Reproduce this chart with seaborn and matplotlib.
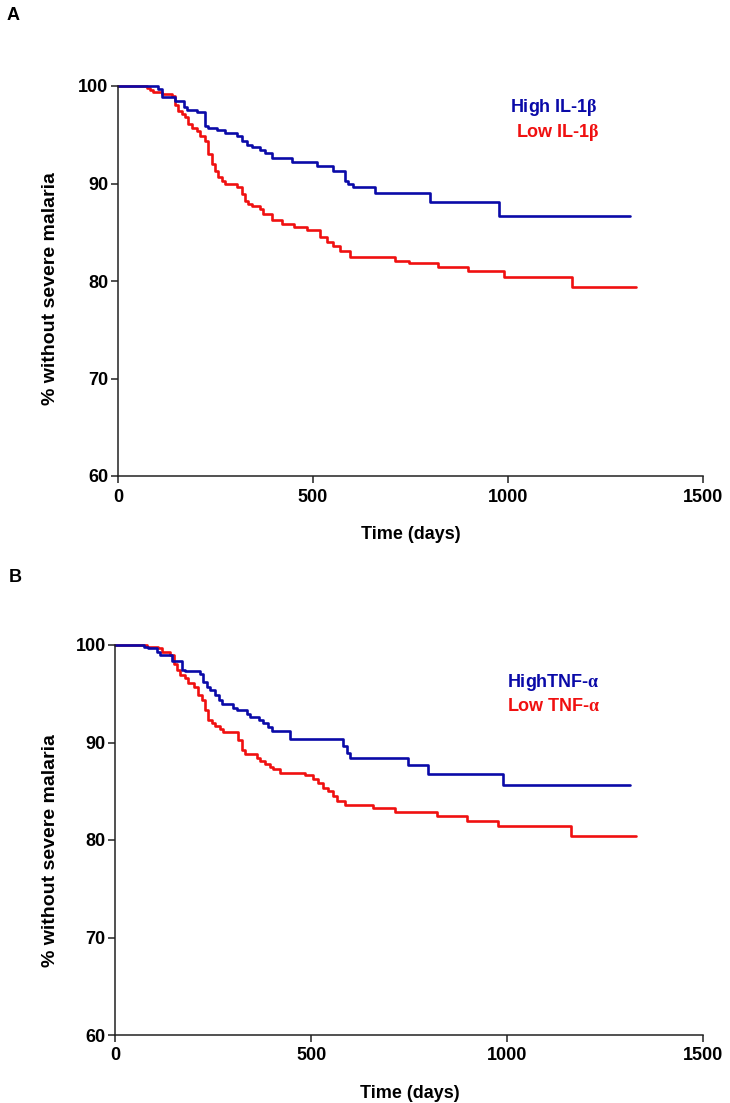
import matplotlib
matplotlib.use("Agg")
import matplotlib.pyplot as plt
import pandas as pd
import seaborn as sns

# Kaplan-Meier steps (time in days, % without severe malaria)
il1b_high_t = [0, 103, 112, 146, 168, 178, 202, 223, 232, 253, 274, 304, 317, 330, 343, 364,
               377, 394, 445, 509, 552, 582, 591, 603, 659, 800, 978, 1314]
il1b_high_s = [100, 99.7, 98.9, 98.5, 97.8, 97.5, 97.3, 95.9, 95.7, 95.5, 95.2, 94.9, 94.4, 94.0,
               93.75, 93.4, 93.1, 92.6, 92.25, 91.8, 91.3, 90.3, 89.9, 89.6, 89.0, 88.1, 86.7, 86.7]

il1b_low_t = [0, 74, 82, 91, 112, 138, 146, 155, 163, 172, 180, 189, 202, 210, 223, 232, 240, 249,
              257, 266, 274, 304, 317, 326, 334, 343, 364, 373, 394, 420, 450, 484, 518, 535, 552,
              569, 595, 710, 747, 821, 898, 990, 1163, 1328]
il1b_low_s = [100, 99.8, 99.6, 99.4, 99.2, 99.0, 98.1, 97.4, 97.1, 96.8, 96.1, 95.7, 95.4, 94.9,
              94.4, 93.0, 92.0, 91.3, 90.7, 90.3, 89.9, 89.6, 88.9, 88.2, 87.9, 87.7, 87.4, 86.9,
              86.3, 85.8, 85.5, 85.2, 84.5, 84.0, 83.6, 83.1, 82.5, 82.1, 81.8, 81.45, 81.0, 80.4,
              79.4, 79.4]

tnf_high_t = [0, 73, 84, 105, 114, 143, 169, 177, 216, 224, 233, 241, 254, 263, 271, 301, 309, 335,
              343, 365, 377, 390, 399, 445, 581, 590, 598, 747, 798, 988, 1312]
tnf_high_s = [100, 99.76, 99.66, 99.3, 99.0, 98.4, 97.4, 97.3, 97.0, 96.2, 95.7, 95.4, 94.9, 94.4,
              93.9, 93.5, 93.3, 92.9, 92.6, 92.3, 92.0, 91.6, 91.2, 90.4, 89.6, 88.9, 88.4, 87.65,
              86.8, 85.67, 85.67]

tnf_low_t = [0, 80, 109, 118, 139, 148, 156, 165, 177, 186, 199, 211, 220, 228, 237, 245, 254, 267,
             275, 313, 322, 330, 360, 369, 381, 394, 403, 420, 483, 505, 517, 530, 543, 556, 564,
             586, 658, 713, 819, 896, 977, 1162, 1328]
tnf_low_s = [100, 99.83, 99.66, 99.25, 99.0, 98.1, 97.4, 96.9, 96.6, 96.1, 95.7, 94.9, 94.4, 93.3,
             92.3, 92.0, 91.7, 91.4, 91.1, 90.3, 89.2, 88.8, 88.4, 88.1, 87.8, 87.5, 87.3, 86.9,
             86.7, 86.3, 85.8, 85.3, 85.0, 84.5, 84.0, 83.6, 83.3, 82.9, 82.5, 82.0, 81.4, 80.4,
             80.4]

x_ticks = [0, 500, 1000, 1500]
y_ticks = [60, 70, 80, 90, 100]

blue = "#0a0aa8"
red = "#f01010"

sns.set_theme(style="ticks")
plt.rcParams["font.family"] = ["Liberation Sans", "DejaVu Sans"]
plt.rcParams["font.weight"] = "bold"
plt.rcParams["mathtext.fontset"] = "custom"
plt.rcParams["mathtext.rm"] = "Liberation Serif"
plt.rcParams["axes.edgecolor"] = "#222222"
plt.rcParams["text.color"] = "black"
plt.rcParams["axes.labelcolor"] = "black"


def make_df(high_t, high_s, low_t, low_s):
    d1 = pd.DataFrame({"time": high_t, "surv": high_s, "group": "High"})
    d2 = pd.DataFrame({"time": low_t, "surv": low_s, "group": "Low"})
    return pd.concat([d1, d2], ignore_index=True)


def draw_panel(ax, df, hi_label, lo_label, hi_pos, lo_pos, ylab_y):
    sns.lineplot(data=df, x="time", y="surv", hue="group", palette={"High": blue, "Low": red},
                 hue_order=["Low", "High"], estimator=None, drawstyle="steps-post",
                 linewidth=1.9, legend=False, ax=ax, clip_on=False)
    ax.set_xlim(0, 1500)
    ax.set_ylim(60, 100)
    ax.set_xticks(x_ticks)
    ax.set_yticks(y_ticks)
    sns.despine(ax=ax)
    for sp in ["left", "bottom"]:
        ax.spines[sp].set_linewidth(1.1)
    ax.tick_params(axis="both", length=5, width=1.1, labelsize=13, color="#222222",
                   labelcolor="black")
    ax.tick_params(axis="y", pad=2)
    ax.tick_params(axis="x", pad=4)
    for lab in ax.get_xticklabels() + ax.get_yticklabels():
        lab.set_fontweight("bold")
    ax.set_xlabel("Time (days)", fontsize=13, fontweight="bold")
    ax.set_ylabel("% without severe malaria", fontsize=14, fontweight="bold")
    ax.xaxis.label.set_va("center")
    ax.xaxis.set_label_coords(0.5, -0.151)
    ax.yaxis.label.set_va("center")
    ax.yaxis.set_label_coords(ylab_y[0], ylab_y[1])
    ax.text(hi_pos[0], hi_pos[1], hi_label, color=blue, fontsize=13, fontweight="bold",
            va="center", ha="left")
    ax.text(lo_pos[0], lo_pos[1], lo_label, color=red, fontsize=13, fontweight="bold",
            va="center", ha="left")


fig = plt.figure(figsize=(7.3, 11.03), dpi=100)
ax_a = fig.add_axes([118 / 730, 1 - 476 / 1103, 585 / 730, 390 / 1103])
ax_b = fig.add_axes([115.5 / 730, 1 - 1035 / 1103, 588 / 730, 390 / 1103])

df_a = make_df(il1b_high_t, il1b_high_s, il1b_low_t, il1b_low_s)
df_b = make_df(tnf_high_t, tnf_high_s, tnf_low_t, tnf_low_s)

draw_panel(ax_a, df_a, r"High IL-1$\mathrm{\beta}$", r"Low IL-1$\mathrm{\beta}$",
           (1005, 97.8), (1020, 95.2), (-0.116, 0.48))
draw_panel(ax_b, df_b, r"HighTNF-$\mathrm{\alpha}$", r"Low TNF-$\mathrm{\alpha}$",
           (999, 96.2), (999, 93.65), (-0.111, 0.474))

fig.text(7 / 730, 1 - 15 / 1103, "A", fontsize=13, fontweight="bold", va="center", ha="left")
fig.text(9 / 730, 1 - 577 / 1103, "B", fontsize=13, fontweight="bold", va="center", ha="left")

fig.savefig("out.png", dpi=100, facecolor="white")
